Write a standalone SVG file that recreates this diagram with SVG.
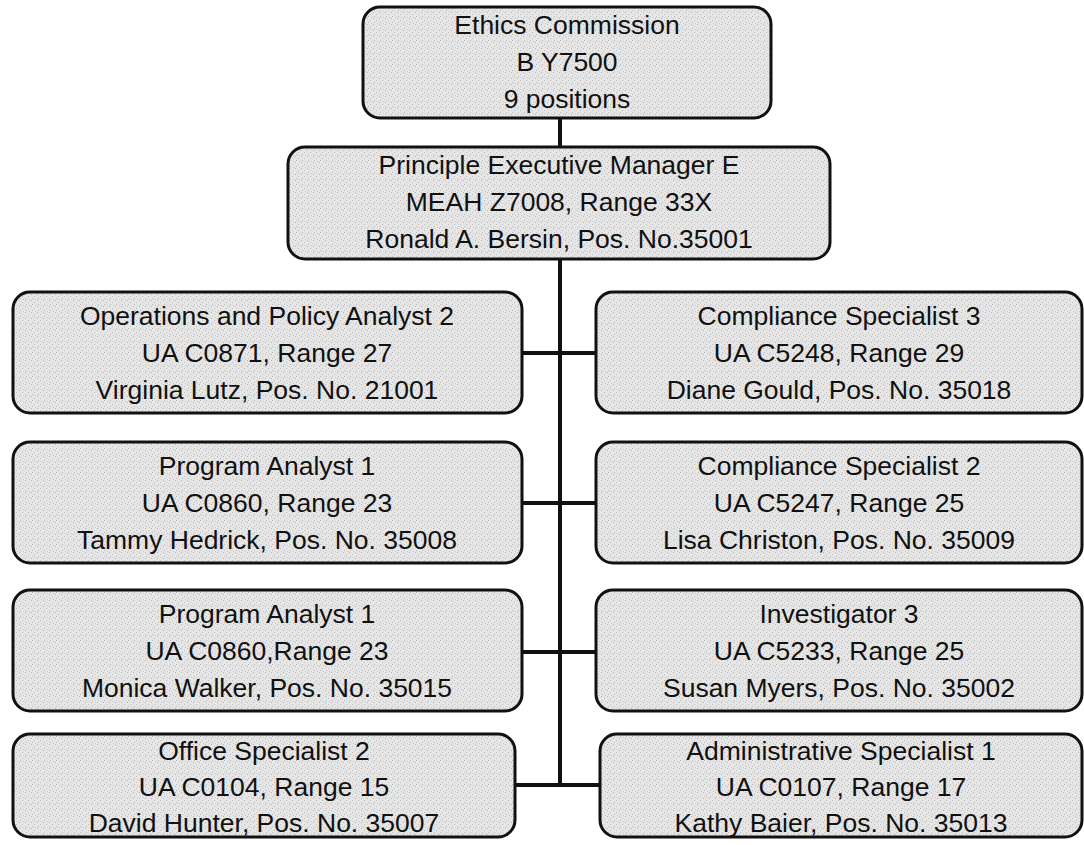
<svg xmlns="http://www.w3.org/2000/svg" width="1084" height="845" viewBox="0 0 1084 845">
<defs>
<pattern id="stip" width="6" height="6" patternUnits="userSpaceOnUse">
<rect width="6" height="6" fill="#e6e6e6"/>
<rect x="1" y="0" width="1" height="1" fill="#b5b5b5"/>
<rect x="4" y="2" width="1" height="1" fill="#c0c0c0"/>
<rect x="2" y="4" width="1" height="1" fill="#bbbbbb"/>
<rect x="5" y="5" width="1" height="1" fill="#c8c8c8"/>
</pattern>
</defs>
<style>
.box{fill:url(#stip);stroke:#111;stroke-width:3}
.t{font-family:"Liberation Sans",Arial,sans-serif;font-size:26.5px;fill:#111;text-anchor:middle}
.c{stroke:#111;stroke-width:4;fill:none}
</style>
<rect width="1084" height="845" fill="#fff"/>
<g id="connectors">
<line class="c" x1="560" y1="118" x2="560" y2="147"/>
<line class="c" x1="560" y1="259" x2="560" y2="787"/>
<line class="c" x1="522" y1="353" x2="596" y2="353"/>
<line class="c" x1="522" y1="503" x2="596" y2="503"/>
<line class="c" x1="522" y1="652" x2="596" y2="652"/>
<line class="c" x1="515" y1="785" x2="600" y2="785"/>
</g>
<g id="n-ethics">
<rect class="box" x="363" y="7" width="408" height="111" rx="17"/>
<text class="t" x="567" y="34">Ethics Commission</text>
<text class="t" x="567" y="71">B Y7500</text>
<text class="t" x="567" y="108">9 positions</text>
</g>
<g id="n-pem">
<rect class="box" x="288" y="147" width="542" height="112" rx="17"/>
<text class="t" x="559" y="174">Principle Executive Manager E</text>
<text class="t" x="559" y="211">MEAH Z7008, Range 33X</text>
<text class="t" x="559" y="248">Ronald A. Bersin, Pos. No.35001</text>
</g>
<g id="n-opa">
<rect class="box" x="13" y="292" width="509" height="121" rx="17"/>
<text class="t" x="267" y="325">Operations and Policy Analyst 2</text>
<text class="t" x="267" y="362">UA C0871, Range 27</text>
<text class="t" x="267" y="399">Virginia Lutz, Pos. No. 21001</text>
</g>
<g id="n-cs3">
<rect class="box" x="596" y="292" width="486" height="121" rx="17"/>
<text class="t" x="839" y="325">Compliance Specialist 3</text>
<text class="t" x="839" y="362">UA C5248, Range 29</text>
<text class="t" x="839" y="399">Diane Gould, Pos. No. 35018</text>
</g>
<g id="n-pa1a">
<rect class="box" x="13" y="442" width="509" height="121" rx="17"/>
<text class="t" x="267" y="475">Program Analyst 1</text>
<text class="t" x="267" y="512">UA C0860, Range 23</text>
<text class="t" x="267" y="549">Tammy Hedrick, Pos. No. 35008</text>
</g>
<g id="n-cs2">
<rect class="box" x="596" y="442" width="486" height="121" rx="17"/>
<text class="t" x="839" y="475">Compliance Specialist 2</text>
<text class="t" x="839" y="512">UA C5247, Range 25</text>
<text class="t" x="839" y="549">Lisa Christon, Pos. No. 35009</text>
</g>
<g id="n-pa1b">
<rect class="box" x="13" y="590" width="509" height="121" rx="17"/>
<text class="t" x="267" y="623">Program Analyst 1</text>
<text class="t" x="267" y="660">UA C0860,Range 23</text>
<text class="t" x="267" y="697">Monica Walker, Pos. No. 35015</text>
</g>
<g id="n-inv3">
<rect class="box" x="596" y="590" width="486" height="121" rx="17"/>
<text class="t" x="839" y="623">Investigator 3</text>
<text class="t" x="839" y="660">UA C5233, Range 25</text>
<text class="t" x="839" y="697">Susan Myers, Pos. No. 35002</text>
</g>
<g id="n-os2">
<rect class="box" x="13" y="734" width="502" height="103" rx="17"/>
<text class="t" x="264" y="760">Office Specialist 2</text>
<text class="t" x="264" y="796">UA C0104, Range 15</text>
<text class="t" x="264" y="832">David Hunter, Pos. No. 35007</text>
</g>
<g id="n-as1">
<rect class="box" x="600" y="734" width="482" height="103" rx="17"/>
<text class="t" x="841" y="760">Administrative Specialist 1</text>
<text class="t" x="841" y="796">UA C0107, Range 17</text>
<text class="t" x="841" y="832">Kathy Baier, Pos. No. 35013</text>
</g>
</svg>
